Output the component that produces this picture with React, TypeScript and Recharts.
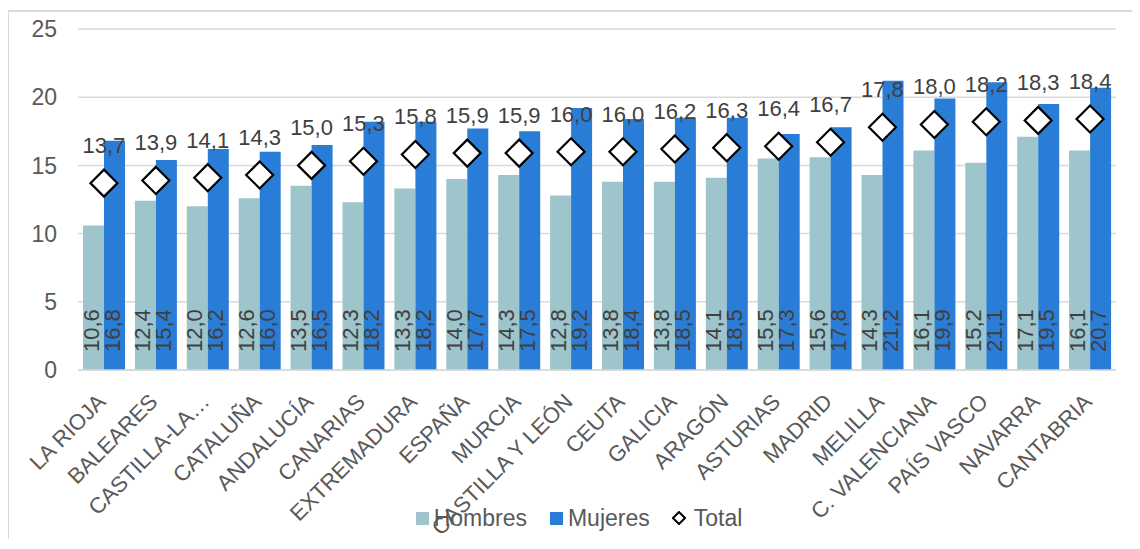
import { ComposedChart, Bar, Line, XAxis, YAxis, CartesianGrid, Legend, LabelList } from 'recharts'

const regions = [
  'LA RIOJA', 'BALEARES', 'CASTILLA-LA…', 'CATALUÑA', 'ANDALUCÍA', 'CANARIAS', 'EXTREMADURA',
  'ESPAÑA', 'MURCIA', 'CASTILLA Y LEÓN', 'CEUTA', 'GALICIA', 'ARAGÓN', 'ASTURIAS', 'MADRID',
  'MELILLA', 'C. VALENCIANA', 'PAÍS VASCO', 'NAVARRA', 'CANTABRIA',
]
const hombres = [10.6, 12.4, 12.0, 12.6, 13.5, 12.3, 13.3, 14.0, 14.3, 12.8, 13.8, 13.8, 14.1, 15.5, 15.6, 14.3, 16.1, 15.2, 17.1, 16.1]
const mujeres = [16.8, 15.4, 16.2, 16.0, 16.5, 18.2, 18.2, 17.7, 17.5, 19.2, 18.4, 18.5, 18.5, 17.3, 17.8, 21.2, 19.9, 21.1, 19.5, 20.7]
const total = [13.7, 13.9, 14.1, 14.3, 15.0, 15.3, 15.8, 15.9, 15.9, 16.0, 16.0, 16.2, 16.3, 16.4, 16.7, 17.8, 18.0, 18.2, 18.3, 18.4]
const yTicks = [0, 5, 10, 15, 20, 25]

const data = regions.map((region, i) => ({
  region,
  hombres: hombres[i],
  mujeres: mujeres[i],
  total: total[i],
}))

const FONT = '"Liberation Sans", Arial, sans-serif'
const HOMBRES = '#9DC5CB'
const MUJERES = '#2A7DD6'
const GRID = '#D9D9D9'

const fmt = (v: number) => Number(v).toFixed(1).replace('.', ',')

// vertical value label sitting near the base of each bar
const BarValue = (props: any) => {
  const vb = props.viewBox ?? props
  const x = props.x ?? vb.x
  const y = props.y ?? vb.y
  const width = props.width ?? vb.width
  const height = props.height ?? vb.height
  const bx = x + width / 2 + 5
  const by = y + height - 18
  return (
    <text
      x={bx}
      y={by}
      transform={`rotate(-90 ${bx} ${by})`}
      fontSize={22}
      fontFamily={FONT}
      fill="#404040"
    >
      {fmt(props.value)}
    </text>
  )
}

const Diamond = (props: any) => {
  const { cx, cy, index } = props
  if (cx == null || cy == null) return <g key={index} />
  const r = 13.5
  return (
    <path
      key={index}
      d={`M${cx},${cy - r}L${cx + r},${cy}L${cx},${cy + r}L${cx - r},${cy}Z`}
      fill="#fff"
      stroke="#000"
      strokeWidth={2.2}
    />
  )
}

const RegionTick = (props: any) => {
  const { x, y, payload } = props
  const tx = x - 8
  const ty = y + 14
  return (
    <text
      x={tx}
      y={ty}
      dy="0.71em"
      textAnchor="end"
      transform={`rotate(-45 ${tx} ${ty})`}
      fontSize={22}
      fontFamily={FONT}
      fill="#595959"
    >
      {payload.value}
    </text>
  )
}

const LegendBox = () => (
  <div
    style={{
      display: 'flex',
      justifyContent: 'center',
      alignItems: 'center',
      height: 24,
      paddingLeft: 10,
      fontFamily: FONT,
      fontSize: 23,
      color: '#595959',
    }}
  >
    <span style={{ width: 13, height: 13, background: HOMBRES, marginRight: 5 }} />
    <span style={{ marginRight: 23 }}>Hombres</span>
    <span style={{ width: 13, height: 13, background: MUJERES, marginRight: 5 }} />
    <span style={{ marginRight: 22 }}>Mujeres</span>
    <svg width={14} height={14} style={{ marginRight: 8 }}>
      <path d="M7,1L13,7L7,13L1,7Z" fill="#fff" stroke="#000" strokeWidth={2} />
    </svg>
    <span>Total</span>
  </div>
)

export default function App() {
  return (
    <div style={{ position: 'relative', width: 1132, height: 541, marginBottom: -10, fontFamily: FONT }}>
      <div
        style={{
          position: 'absolute',
          left: -1,
          top: 2,
          width: 1131,
          bottom: 0,
          borderLeft: `2px solid ${GRID}`,
          borderTop: `2px solid ${GRID}`,
        }}
      />
      <ComposedChart
        width={1132}
        height={541}
        data={data}
        margin={{ top: 21, right: 24, bottom: 19, left: 0 }}
        barGap={0}
        style={{ position: 'relative' }}
      >
        <CartesianGrid vertical={false} stroke={GRID} strokeWidth={1.5} />
        <XAxis
          dataKey="region"
          interval={0}
          height={136}
          tickLine={false}
          axisLine={{ stroke: GRID, strokeWidth: 1.5 }}
          tick={<RegionTick />}
        />
        <YAxis
          domain={[0, 25]}
          ticks={yTicks}
          width={70}
          axisLine={false}
          tickLine={false}
          tickMargin={15}
          tick={{ fill: '#595959', fontSize: 23, fontFamily: FONT }}
        />
        <Legend verticalAlign="bottom" content={<LegendBox />} wrapperStyle={{ left: 0, width: 1132 }} />
        <Bar dataKey="hombres" name="Hombres" fill={HOMBRES} barSize={21} isAnimationActive={false}>
          <LabelList dataKey="hombres" content={<BarValue />} />
        </Bar>
        <Bar dataKey="mujeres" name="Mujeres" fill={MUJERES} barSize={21} isAnimationActive={false}>
          <LabelList dataKey="mujeres" content={<BarValue />} />
        </Bar>
        <Line
          dataKey="total"
          name="Total"
          stroke="none"
          dot={Diamond}
          activeDot={false}
          isAnimationActive={false}
        >
          <LabelList
            dataKey="total"
            position="top"
            offset={30}
            formatter={(v: any) => fmt(v)}
            fill="#404040"
            fontSize={22}
            fontFamily={FONT}
          />
        </Line>
      </ComposedChart>
    </div>
  )
}
